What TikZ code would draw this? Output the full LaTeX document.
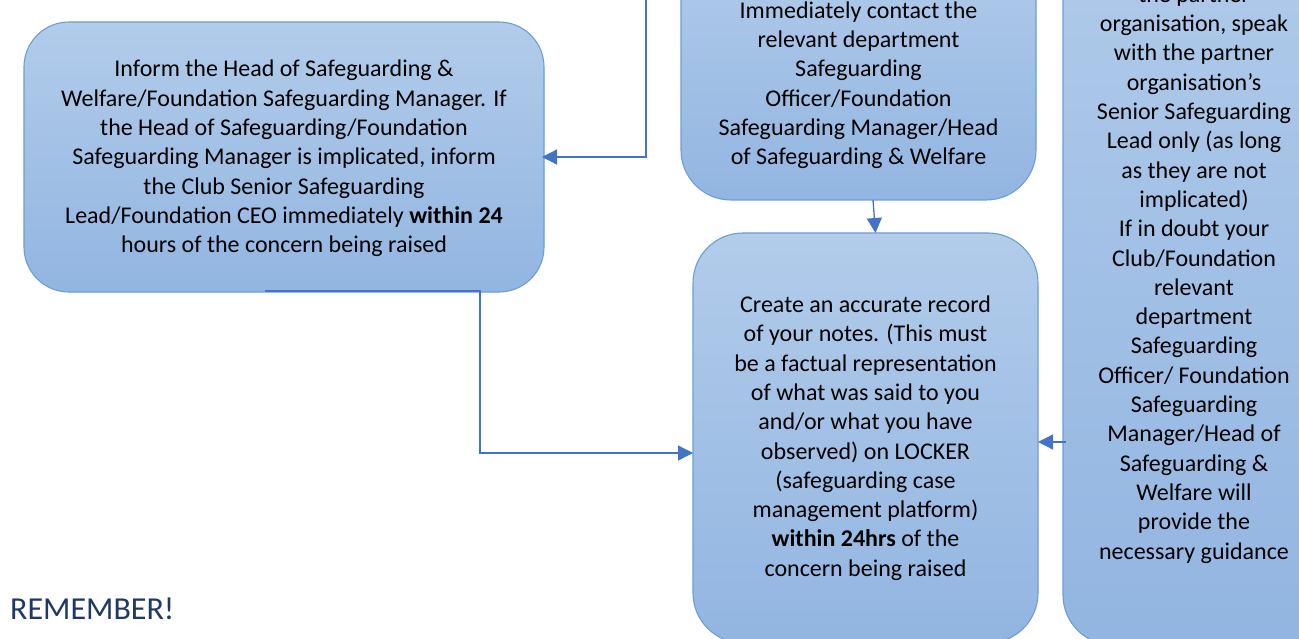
\documentclass[tikz,border=0pt]{standalone}
\usepackage{fontspec}
\setmainfont{Carlito}
\usetikzlibrary{arrows.meta}
\definecolor{boxtop}{HTML}{B2CCEA}
\definecolor{boxbot}{HTML}{92B5E1}
\definecolor{boxline}{HTML}{6A9FD6}
\definecolor{arrowc}{HTML}{4472C4}
\definecolor{remc}{HTML}{1F3864}
\begin{document}
\begin{tikzpicture}[x=1pt,y=-1pt,
  flowbox/.style={rectangle, draw=boxline, line width=1.1pt, top color=boxtop, bottom color=boxbot, inner sep=0pt, outer sep=0pt},
  boxtext/.style={anchor=base, inner sep=0pt, font=\fontsize{24}{29.3}\selectfont},
  conn/.style={draw=arrowc, line width=1.3pt, -{Triangle[length=15pt,width=15pt]}}]
\useasboundingbox (0,0) rectangle (1299,639);
\clip (0,0) rectangle (1299,639);
% boxes
\node[flowbox, minimum width=520pt, minimum height=270pt, rounded corners=45pt] (left) at (284,157) {};
\node[flowbox, minimum width=355pt, minimum height=260pt, rounded corners=50pt] (midtop) at (858.5,70) {};
\node[flowbox, minimum width=345pt, minimum height=410pt, rounded corners=50pt] (midbot) at (865.5,438) {};
\node[flowbox, minimum width=262pt, minimum height=765pt, rounded corners=50pt] (right) at (1194,262.5) {};
% texts
\node[boxtext] (lefttxt) at (284,77) {\begin{tabular}[t]{@{}c@{}}
Inform the Head of Safeguarding \&\\
Welfare/Foundation Safeguarding Manager. If\\
the Head of Safeguarding/Foundation\\
Safeguarding Manager is implicated, inform\\
the Club Senior Safeguarding\\
Lead/Foundation CEO immediately \textbf{within 24}\\
hours of the concern being raised\end{tabular}};
\node[boxtext] (midtoptxt) at (858.5,18.3) {\begin{tabular}[t]{@{}c@{}}
Immediately contact the\\
relevant department\\
Safeguarding\\
Officer/Foundation\\
Safeguarding Manager/Head\\
of Safeguarding \& Welfare\end{tabular}};
\node[boxtext] (midbottxt) at (865.5,312.5) {\begin{tabular}[t]{@{}c@{}}
Create an accurate record\\
of your notes. (This must\\
be a factual representation\\
of what was said to you\\
and/or what you have\\
observed) on LOCKER\\
(safeguarding case\\
management platform)\\
\textbf{within 24hrs} of the\\
concern being raised\end{tabular}};
\node[boxtext] (righttxt) at (1194,2.4) {\begin{tabular}[t]{@{}c@{}}
the partner\\
organisation, speak\\
with the partner\\
organisation’s\\
Senior Safeguarding\\
Lead only (as long\\
as they are not\\
implicated)\\
If in doubt your\\
Club/Foundation\\
relevant\\
department\\
Safeguarding\\
Officer/ Foundation\\
Safeguarding\\
Manager/Head of\\
Safeguarding \&\\
Welfare will\\
provide the\\
necessary guidance\end{tabular}};
\node[anchor=base west, inner sep=0pt, text=remc, font=\fontsize{32}{38}\selectfont] (remember) at (10,619) {REMEMBER!};
% connectors
\coordinate (c1) at (646,-2);
\draw[conn, shorten >=-2pt] (c1) |- (left.east);
\draw[conn] ([xshift=14.5pt]midtop.south) -- ([xshift=10pt]midbot.north);
\coordinate (c3a) at (265,291);
\coordinate (c3b) at (480,291);
\draw[conn] (c3a) -- (c3b) |- ([yshift=-15pt]midbot.west);
\coordinate (c4) at (1066,442);
\draw[conn] (c4) -- (midbot.east |- c4);
\end{tikzpicture}
\end{document}
